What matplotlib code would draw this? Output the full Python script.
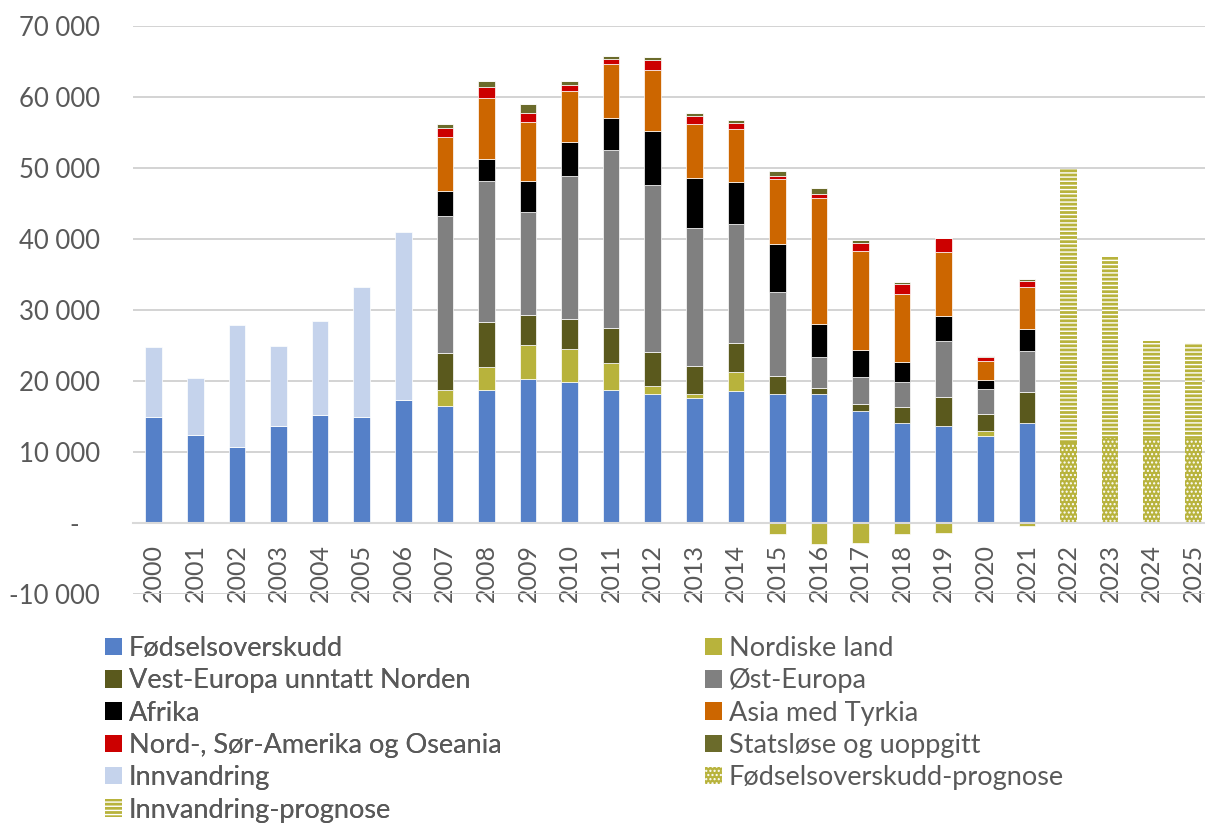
import matplotlib
import matplotlib.pyplot as plt
import numpy as np
from matplotlib.patches import Patch
from matplotlib.ticker import FuncFormatter

matplotlib.use('Agg')

years = [str(y) for y in range(2000, 2026)]

# fødselsoverskudd 2000-2021 (prognose for 2022-2025 kept separately)
fodsel = [14900, 12400, 10700, 13600, 15200, 14900, 17300,
          16500, 18800, 20300, 19900, 18800, 18200, 17600, 18600,
          18200, 18100, 15800, 14100, 13700, 12300, 14100,
          0, 0, 0, 0]
# total innvandring, only shown 2000-2006
innvandring = [9900, 8000, 17200, 11300, 13300, 18300, 23700] + [0] * 19

# innvandring by region 2007-2021
nordiske = [2200, 3200, 4800, 4600, 3700, 1100, 600, 2600,
            -1600, -2900, -2800, -1600, -1400, 600, -400]
vest_europa = [5300, 6300, 4200, 4300, 4900, 4800, 3900, 4200,
               2500, 900, 900, 2300, 4000, 2500, 4300]
ost_europa = [19300, 19800, 14500, 20100, 25200, 23500, 19400, 16700,
              11900, 4400, 3900, 3500, 7900, 3500, 5800]
afrika = [3500, 3200, 4300, 4700, 4500, 7600, 7100, 5900,
          6700, 4600, 3700, 2800, 3600, 1200, 3100]
asia = [7600, 8500, 8400, 7300, 7500, 8600, 7600, 7500,
        9100, 17800, 14000, 9600, 9000, 2700, 6000]
amerika = [1300, 1600, 1300, 800, 800, 1400, 1100, 800,
           500, 500, 1100, 1400, 1900, 600, 800]
statslose = [500, 800, 1200, 600, 400, 400, 500, 500,
             700, 900, 500, 200, 100, 100, 200]

# prognose 2022-2025
fodsel_prognose = [11300, 12000, 11900, 11800]
innv_prognose = [38500, 25400, 13700, 13600]


def pad(values, before, after):
    return np.array([0] * before + list(values) + [0] * after, dtype=float)


def plot():
    plt.rcParams['font.family'] = ['Lato', 'DejaVu Sans']
    plt.rcParams['hatch.linewidth'] = 1.0
    text_color = '#595959'
    olive = '#b8b33c'

    fig = plt.figure(figsize=(12.05, 8.23), dpi=100)
    ax = fig.add_axes([133 / 1205, 1 - 594 / 823, 1081 / 1205, 568 / 823])

    x = np.arange(len(years))
    width = 0.4

    series = [
        ('Fødselsoverskudd', np.array(fodsel, dtype=float), '#5580c8', None),
        ('Nordiske land', pad(nordiske, 7, 4), olive, None),
        ('Vest-Europa unntatt Norden', pad(vest_europa, 7, 4), '#5a591d', None),
        ('Øst-Europa', pad(ost_europa, 7, 4), '#808080', None),
        ('Afrika', pad(afrika, 7, 4), '#000000', None),
        ('Asia med Tyrkia', pad(asia, 7, 4), '#cc6600', None),
        ('Nord-, Sør-Amerika og Oseania', pad(amerika, 7, 4), '#cc0000', None),
        ('Statsløse og uoppgitt', pad(statslose, 7, 4), '#6b6b2b', None),
        ('Innvandring', np.array(innvandring, dtype=float), '#c5d3ec', None),
        ('Fødselsoverskudd-prognose', pad(fodsel_prognose, 22, 0), olive, '....'),
        ('Innvandring-prognose', pad(innv_prognose, 22, 0), olive, '----'),
    ]

    pos_bottom = np.zeros(len(years))
    neg_bottom = np.zeros(len(years))
    handles = []
    for label, vals, color, hatch in series:
        bottom = np.where(vals >= 0, pos_bottom, neg_bottom)
        ax.bar(x, vals, width, bottom=bottom, color=color, edgecolor='white',
               linewidth=0.5 if hatch is None else 0, hatch=hatch, zorder=3)
        pos_bottom = pos_bottom + np.where(vals > 0, vals, 0)
        neg_bottom = neg_bottom + np.where(vals < 0, vals, 0)
        handles.append(Patch(facecolor=color, edgecolor='white',
                             linewidth=0, hatch=hatch, label=label))

    ax.set_xlim(-0.5, len(years) - 0.5)
    ax.set_ylim(-10000, 70000)
    ax.set_yticks(range(-10000, 70001, 10000))

    def fmt(v, pos):
        if v == 0:
            return '-   '
        return f'{int(v):,}'.replace(',', ' ')

    ax.yaxis.set_major_formatter(FuncFormatter(fmt))
    ax.grid(axis='y', color='#d0d0d0', linewidth=1.3, zorder=0)
    ax.set_axisbelow(True)

    for side in ['top', 'right', 'left']:
        ax.spines[side].set_visible(False)
    ax.spines['bottom'].set_position(('data', 0))
    ax.spines['bottom'].set_color('#d9d9d9')
    ax.spines['bottom'].set_linewidth(1.5)
    ax.spines['bottom'].set_zorder(4)

    ax.set_xticks(x)
    ax.set_xticklabels(years, rotation=90)
    ax.tick_params(axis='x', length=0, pad=15, labelsize=18, colors=text_color)
    ax.tick_params(axis='y', length=0, pad=24, labelsize=18.5, colors=text_color)

    # legend laid out row by row, two columns
    left_col = handles[0::2]
    right_col = handles[1::2]
    opts = dict(frameon=False, fontsize=19.5, handlelength=0.62, handleheight=0.62,
                handletextpad=0.26, labelspacing=0.27, borderaxespad=0,
                borderpad=0, labelcolor=text_color)
    leg1 = fig.legend(handles=left_col, loc='upper left',
                      bbox_to_anchor=(105 / 1205, 1 - 636 / 823), **opts)
    fig.legend(handles=right_col, loc='upper left',
               bbox_to_anchor=(705 / 1205, 1 - 636 / 823), **opts)
    fig.add_artist(leg1)

    fig.savefig('out.png', dpi=100)


if __name__ == '__main__':
    plot()
